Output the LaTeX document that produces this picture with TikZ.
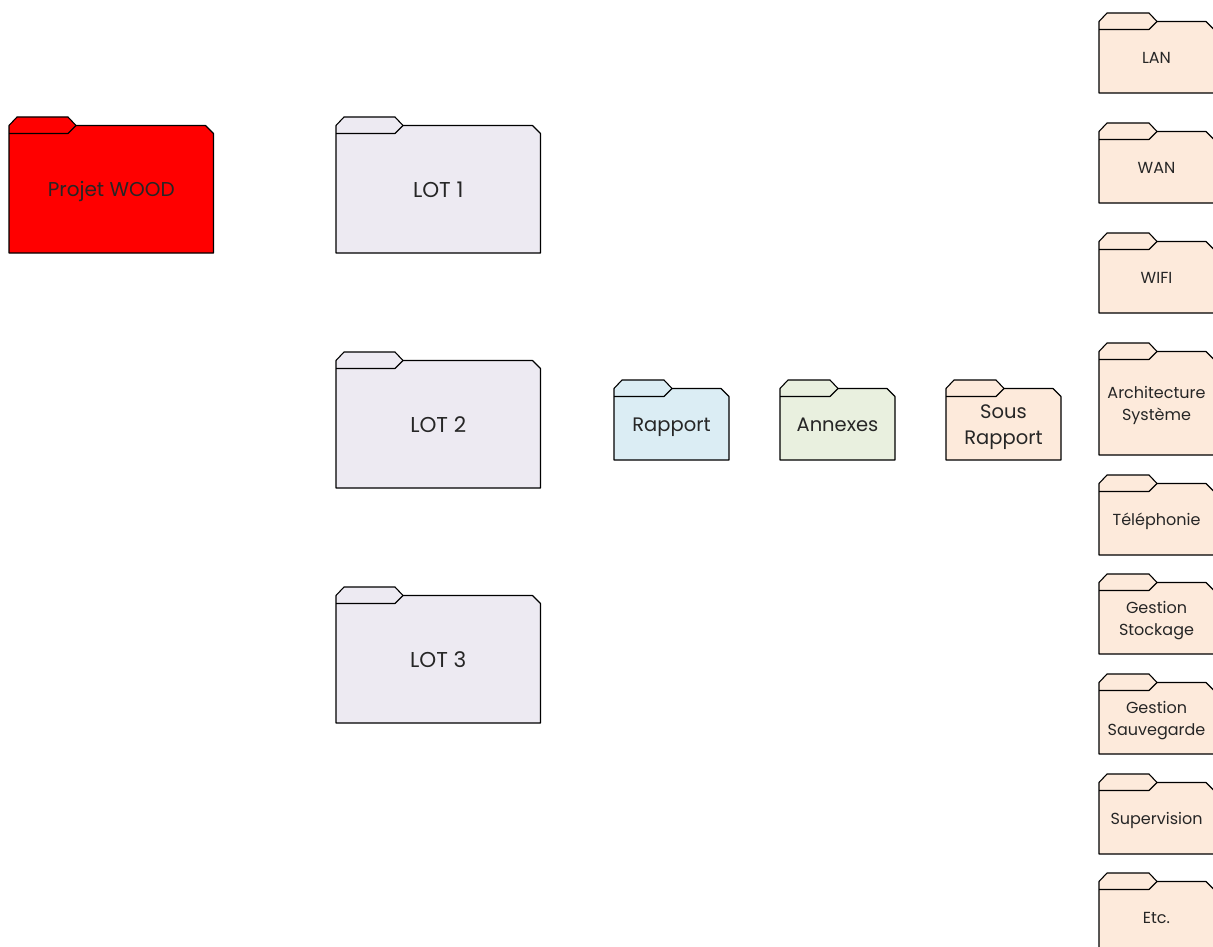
\documentclass[tikz,border=0pt]{standalone}
\usepackage{fontspec}
\setmainfont{Poppins}
\definecolor{lav}{HTML}{EDEAF2}
\definecolor{blu}{HTML}{DBEDF4}
\definecolor{grn}{HTML}{E9F0DF}
\definecolor{pch}{HTML}{FDEADB}
\tikzset{
  fold/.style={draw=black,line width=1.1pt,line join=round},
  lab/.style={align=center,text=black!85,inner sep=0pt,yshift=-0.8pt},
  biglab/.style={lab,font=\fontsize{20}{26}\selectfont},
  lotlab/.style={lab,font=\fontsize{21.5}{26}\selectfont},
  midlab/.style={lab,font=\fontsize{19.5}{26}\selectfont},
  smalllab/.style={lab,font=\fontsize{16}{22}\selectfont},
}
\newcommand{\topS}{\rule{0pt}{1em}}
\newcommand{\botS}{\rule[-.3em]{0pt}{.3em}}
% #1 name, #2 left, #3 tab top, #4 width, #5 height, #6 tab length, #7 fill, #8 label style, #9 text
\newcommand{\folderbox}[9]{
  \draw[fold,fill=#7] (#2,#3+8.5) -- (#2+8,#3) -- (#2+#6-8,#3) -- (#2+#6,#3+8.5)
     -- (#2+#4-8,#3+8.5) -- (#2+#4,#3+16.5) -- (#2+#4,#3+#5) -- (#2,#3+#5) -- cycle;
  \draw[fold] (#2,#3+16.5) -- (#2+#6-8,#3+16.5) -- (#2+#6,#3+8.5);
  \node[#8] (#1) at (#2+#4/2,{#3+8+(#5-8)/2}) {\topS #9\botS};
}
\begin{document}
\begin{tikzpicture}[x=1pt,y=-1pt]
\useasboundingbox (0,0) rectangle (1213,947);
\clip (0,0) rectangle (1213,947);
\fill[white] (0,0) rectangle (1213,947);
\folderbox{wood}{9}{117}{204.5}{136}{67}{red}{biglab}{Projet WOOD}
\folderbox{lotA}{336}{117}{204.5}{136}{67}{lav}{lotlab}{LOT 1}
\folderbox{lotB}{336}{352}{204.5}{136}{67}{lav}{lotlab}{LOT 2}
\folderbox{lotC}{336}{587}{204.5}{136}{67}{lav}{lotlab}{LOT 3}
\folderbox{rap}{614}{380}{115}{80}{58}{blu}{midlab}{Rapport}
\folderbox{ann}{780}{380}{115}{80}{58}{grn}{midlab}{Annexes}
\folderbox{sous}{946}{380}{115}{80}{58}{pch}{midlab}{Sous\\Rapport}
\folderbox{lan}{1099}{13}{115}{80}{58}{pch}{smalllab}{LAN}
\folderbox{wan}{1099}{123}{115}{80}{58}{pch}{smalllab}{WAN}
\folderbox{wifi}{1099}{233}{115}{80}{58}{pch}{smalllab}{WIFI}
\folderbox{arch}{1099}{343}{115}{112}{58}{pch}{smalllab}{Architecture\\Système}
\folderbox{tel}{1099}{475}{115}{80}{58}{pch}{smalllab}{Téléphonie}
\folderbox{stock}{1099}{574}{115}{80}{58}{pch}{smalllab}{Gestion\\Stockage}
\folderbox{sauv}{1099}{674}{115}{80}{58}{pch}{smalllab}{Gestion\\Sauvegarde}
\folderbox{sup}{1099}{774}{115}{80}{58}{pch}{smalllab}{Supervision}
\folderbox{etc}{1099}{873}{115}{80}{58}{pch}{smalllab}{Etc.}
\end{tikzpicture}
\end{document}
